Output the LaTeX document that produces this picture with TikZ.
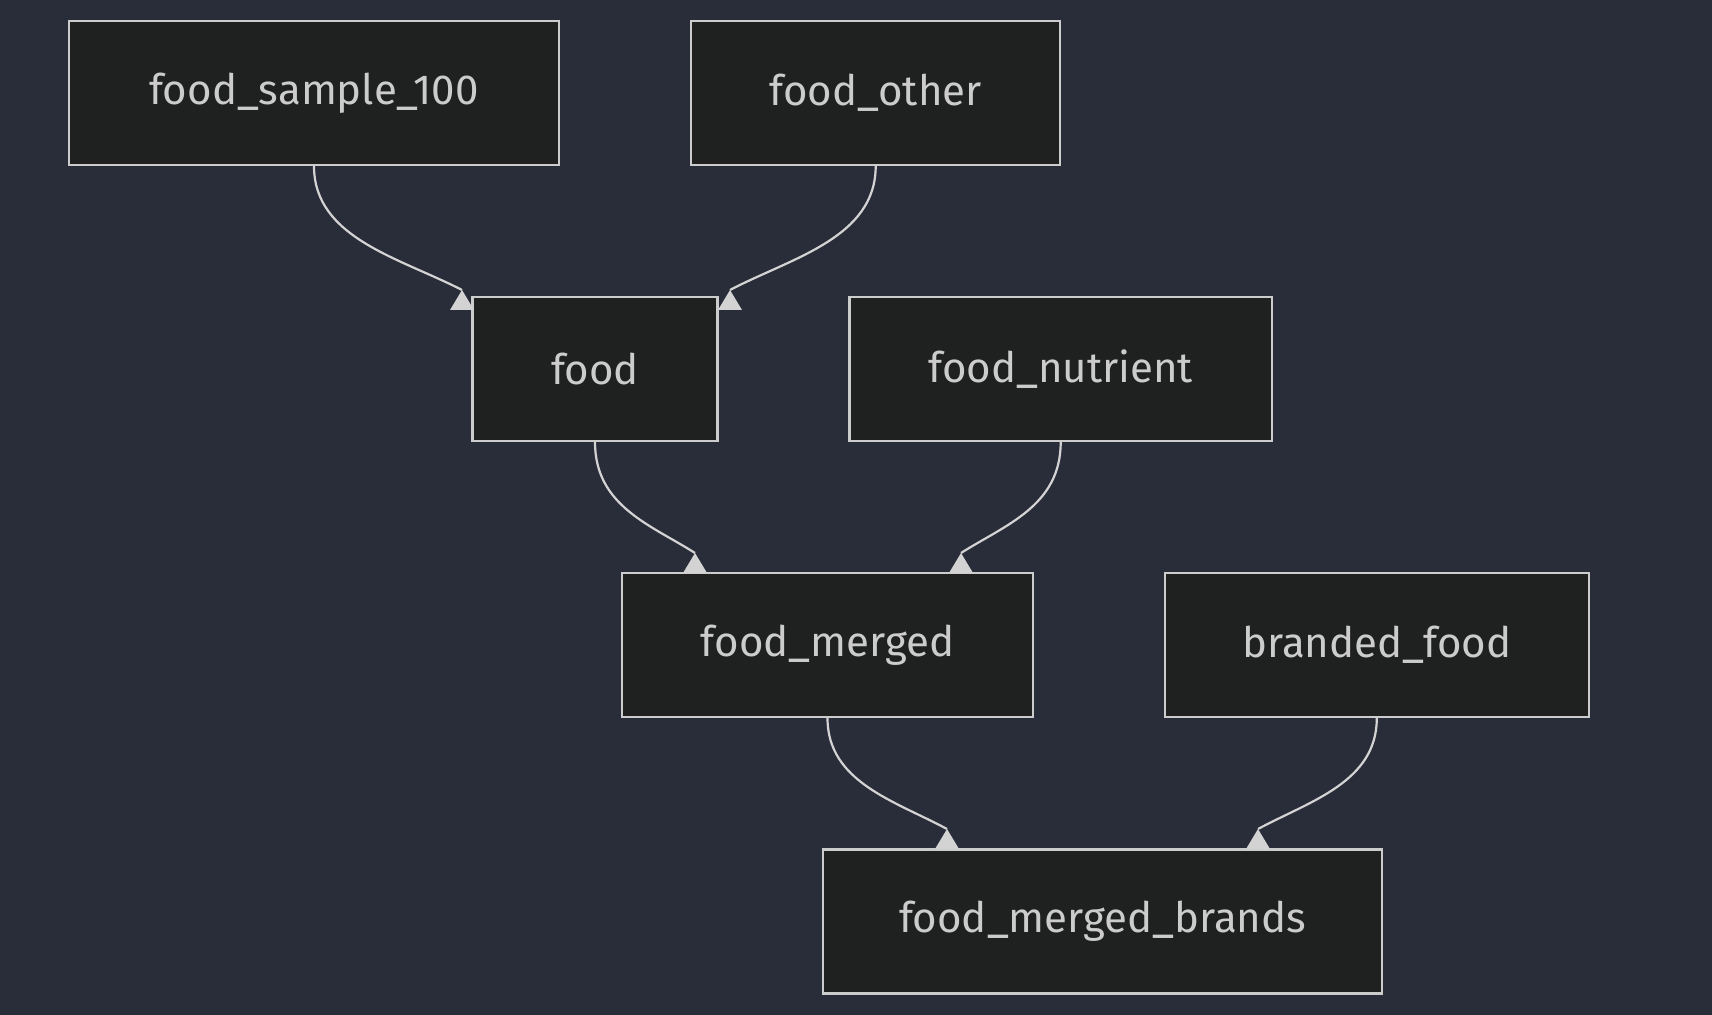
\documentclass[tikz,border=0pt]{standalone}
\usepackage{fontspec}
\setmainfont{Fira Sans}
\definecolor{bgblue}{HTML}{292D3A}
\definecolor{boxfill}{HTML}{1F2020}
\definecolor{boxline}{HTML}{CCCCCC}
\definecolor{linkgray}{HTML}{D3D3D3}
\tikzset{
  table/.style={draw=boxline, line width=1.1pt, fill=boxfill, text=boxline,
    minimum height=72pt, inner sep=0pt, font=\fontsize{21}{25}\selectfont},
  link/.style={draw=linkgray, line width=1.1pt},
  uptip/.pic={\fill[linkgray] (0,0) -- (-12,20) -- (12,20) -- cycle;}
}
\begin{document}
\begin{tikzpicture}[x=0.5pt, y=-0.5pt]
        \fill[bgblue] (0,0) rectangle (1712,1015);
        \useasboundingbox (0,0) rectangle (1712,1015);

        % tables
        \node[table, minimum width=245pt] (fs) at (314,93) {food\_sample\_100};
        \node[table, minimum width=184.5pt] (fo) at (875.7,93) {food\_other};
        \node[table, minimum width=122.5pt] (fd) at (595,369) {food};
        \node[table, minimum width=211.3pt] (fn) at (1060.7,369) {food\_nutrient};
        \node[table, minimum width=205.3pt] (fm) at (827.5,645) {food\_merged};
        \node[table, minimum width=211.8pt] (bf) at (1376.8,645) {branded\_food};
        \node[table, minimum width=279.5pt] (fmb) at (1102.7,921.5) {food\_merged\_brands};

        % links
        \coordinate (t1) at (462,290);
        \coordinate (t2) at (730,290);
        \coordinate (t3) at (695,553);
        \coordinate (t4) at (961,553);
        \coordinate (t5) at (947,829);
        \coordinate (t6) at (1258,829);
        \draw[link] (fs.south) .. controls +(0,72) and +(-62,-32) .. (t1);
        \draw[link] (fo.south) .. controls +(0,72) and +(61,-32) .. (t2);
        \draw[link] (fd.south) .. controls +(0,64) and +(-44,-28) .. (t3);
        \draw[link] (fn.south) .. controls +(0,64) and +(44,-28) .. (t4);
        \draw[link] (fm.south) .. controls +(0,64) and +(-52,-28) .. (t5);
        \draw[link] (bf.south) .. controls +(0,64) and +(52,-28) .. (t6);
        \foreach \t in {t1,t2,t3,t4,t5,t6}
            \pic at (\t) {uptip};
    \end{tikzpicture}
\end{document}
